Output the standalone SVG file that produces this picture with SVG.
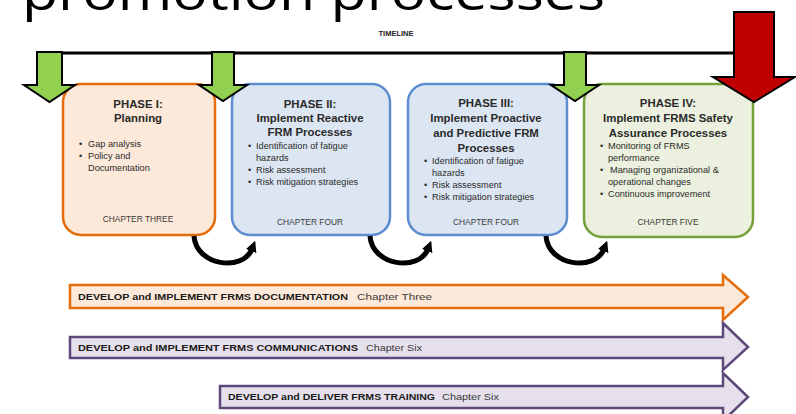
<svg xmlns="http://www.w3.org/2000/svg" width="796" height="414" viewBox="0 0 796 414">
<defs>
<style>
.title{font-family:"Open Sans","Liberation Sans",sans-serif;font-size:50px;fill:#000}
.tl{font-family:"Liberation Sans",Arial,sans-serif;font-size:7.5px;font-weight:bold;fill:#222}
.hd{font-family:"Liberation Sans",Arial,sans-serif;font-size:11.4px;font-weight:bold;fill:#2a2a2a;text-anchor:middle}
.bl{font-family:"Liberation Sans",Arial,sans-serif;font-size:9.2px;fill:#2a2a2a}
.ch{font-family:"Liberation Sans",Arial,sans-serif;font-size:8.4px;fill:#3a3a3a;text-anchor:middle}
.ab{font-family:"Liberation Sans",Arial,sans-serif;font-size:8.8px;font-weight:bold;fill:#1a1a1a}
.ar{font-family:"Liberation Sans",Arial,sans-serif;font-size:8.8px;fill:#3a3a3a}
.green{fill:#92D050;stroke:#000;stroke-width:2;stroke-linejoin:miter}
.red{fill:#C00000;stroke:#000;stroke-width:2}
.curve{fill:none;stroke:#000;stroke-width:5}
</style>
<marker id="ah" viewBox="0 0 10 10" refX="2" refY="5" markerWidth="11" markerHeight="13" markerUnits="userSpaceOnUse" orient="auto">
<path d="M0,0 L10,5 L0,10 Z" fill="#000"/>
</marker>
<marker id="tah" viewBox="0 0 10 10" refX="8" refY="5" markerWidth="8" markerHeight="8" markerUnits="userSpaceOnUse" orient="auto">
<path d="M0,0 L10,5 L0,10 Z" fill="#000"/>
</marker>
</defs>

<text class="title" x="22" y="10" textLength="583" lengthAdjust="spacingAndGlyphs">promotion processes</text>

<g id="timeline">
<text class="tl" x="396" y="36" text-anchor="middle">TIMELINE</text>
<line x1="40" y1="53" x2="742" y2="53" stroke="#000" stroke-width="3" marker-end="url(#tah)"/>
</g>

<g id="phase1">
<rect x="63" y="84" width="152" height="151" rx="18" fill="#FDE9D9" stroke="#E46C0A" stroke-width="2.5"/>
<text class="hd" x="138" y="108">PHASE I:</text>
<text class="hd" x="138" y="122">Planning</text>
<text class="bl" x="79" y="147">•</text><text class="bl" x="88" y="147">Gap analysis</text>
<text class="bl" x="79" y="159">•</text><text class="bl" x="88" y="159">Policy and</text>
<text class="bl" x="88" y="171">Documentation</text>
<text class="ch" x="138" y="222">CHAPTER THREE</text>
</g>

<g id="phase2">
<rect x="232" y="84" width="158" height="151" rx="18" fill="#DCE6F2" stroke="#5B8DD0" stroke-width="2.5"/>
<text class="hd" x="310" y="108">PHASE II:</text>
<text class="hd" x="310" y="122">Implement Reactive</text>
<text class="hd" x="310" y="136">FRM Processes</text>
<text class="bl" x="248" y="149">•</text><text class="bl" x="256" y="149">Identification of fatigue</text>
<text class="bl" x="256" y="161">hazards</text>
<text class="bl" x="248" y="173">•</text><text class="bl" x="256" y="173">Risk assessment</text>
<text class="bl" x="248" y="185">•</text><text class="bl" x="256" y="185">Risk mitigation strategies</text>
<text class="ch" x="310" y="225">CHAPTER FOUR</text>
</g>

<g id="phase3">
<rect x="408" y="84" width="159" height="151" rx="18" fill="#DCE6F2" stroke="#5B8DD0" stroke-width="2.5"/>
<text class="hd" x="486" y="107">PHASE III:</text>
<text class="hd" x="486" y="122">Implement Proactive</text>
<text class="hd" x="486" y="137">and Predictive FRM</text>
<text class="hd" x="486" y="152">Processes</text>
<text class="bl" x="424" y="164">•</text><text class="bl" x="432" y="164">Identification of fatigue</text>
<text class="bl" x="432" y="176">hazards</text>
<text class="bl" x="424" y="188">•</text><text class="bl" x="432" y="188">Risk assessment</text>
<text class="bl" x="424" y="200">•</text><text class="bl" x="432" y="200">Risk mitigation strategies</text>
<text class="ch" x="486" y="225">CHAPTER FOUR</text>
</g>

<g id="phase4">
<rect x="584" y="84" width="169" height="153" rx="18" fill="#EBF1DE" stroke="#77A03C" stroke-width="2.5"/>
<text class="hd" x="668" y="107">PHASE IV:</text>
<text class="hd" x="668" y="122">Implement FRMS Safety</text>
<text class="hd" x="668" y="137">Assurance Processes</text>
<text class="bl" x="600" y="149">•</text><text class="bl" x="608" y="149">Monitoring of FRMS</text>
<text class="bl" x="608" y="161">performance</text>
<text class="bl" x="600" y="173">•</text><text class="bl" x="610" y="173">Managing organizational &amp;</text>
<text class="bl" x="608" y="185">operational changes</text>
<text class="bl" x="600" y="197">•</text><text class="bl" x="608" y="197">Continuous improvement</text>
<text class="ch" x="668" y="225">CHAPTER FIVE</text>
</g>

<g id="connectors">
<path class="green" d="M37,52 H62 V85 H75 L49.5,102 L24,85 H37 Z"/>
<path class="green" d="M212,52 H234 V85 H247 L223,101 L199,85 H212 Z"/>
<path class="green" d="M564,52 H586 V85 H599 L575,101 L551,85 H564 Z"/>
<path class="red" d="M734,12 H774 V77 H795 L754,102 L713,77 H734 Z"/>
<path class="curve" d="M194,236 C196,266 243,272 252,249" marker-end="url(#ah)"/>
<path class="curve" d="M370,236 C372,266 419,272 428,249" marker-end="url(#ah)"/>
<path class="curve" d="M546,236 C548,266 595,272 604,249" marker-end="url(#ah)"/>
</g>

<g id="band-documentation">
<path d="M70,285 H723 V275 L748,297 L723,320 V308 H70 Z" fill="#FDE9D9" stroke="#E46C0A" stroke-width="2.5"/>
<text class="ab" x="78" y="300" textLength="270" lengthAdjust="spacingAndGlyphs">DEVELOP and IMPLEMENT FRMS DOCUMENTATION</text>
<text class="ar" x="357" y="300" textLength="75" lengthAdjust="spacingAndGlyphs">Chapter Three</text>
</g>

<g id="band-communications">
<path d="M70,337 H723 V323 L748,347 L723,370 V358 H70 Z" fill="#E5E0EC" stroke="#5F497A" stroke-width="2.5"/>
<text class="ab" x="78" y="351" textLength="280" lengthAdjust="spacingAndGlyphs">DEVELOP and IMPLEMENT FRMS COMMUNICATIONS</text>
<text class="ar" x="366" y="351" textLength="56" lengthAdjust="spacingAndGlyphs">Chapter Six</text>
</g>

<g id="band-training">
<path d="M220,386 H723 V373 L748,397 L723,421 V408 H220 Z" fill="#E5E0EC" stroke="#5F497A" stroke-width="2.5"/>
<text class="ab" x="228" y="400" textLength="207" lengthAdjust="spacingAndGlyphs">DEVELOP and DELIVER FRMS TRAINING</text>
<text class="ar" x="442" y="400" textLength="57" lengthAdjust="spacingAndGlyphs">Chapter Six</text>
</g>
</svg>
